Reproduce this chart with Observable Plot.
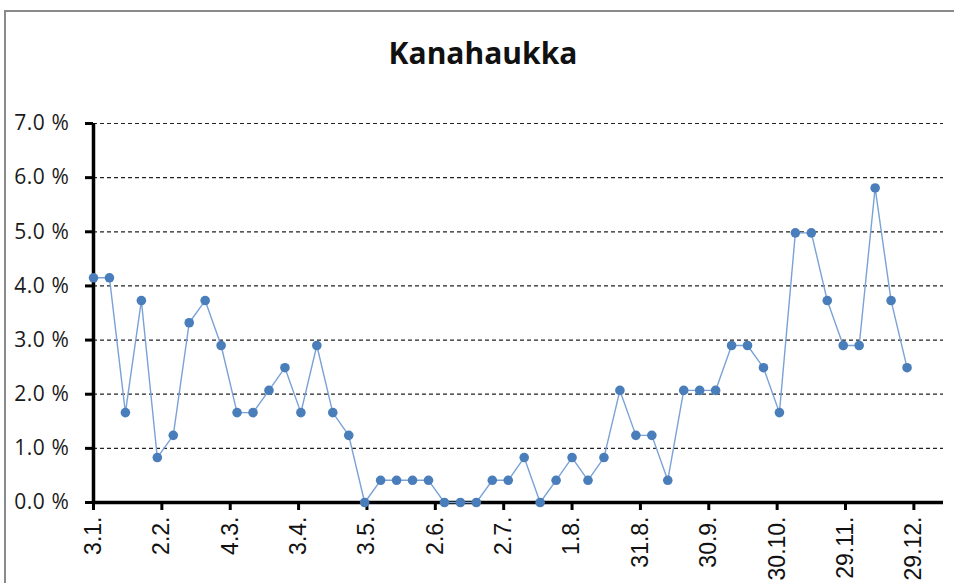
<!DOCTYPE html>
<html>
<head>
<meta charset="utf-8">
<script src="https://cdn.jsdelivr.net/npm/d3@7"></script>
<script src="https://cdn.jsdelivr.net/npm/@observablehq/plot@0.6"></script>
<style>
  body { margin: 0; background: #fff; }
  #wrap { position: relative; width: 954px; height: 583px; overflow: hidden; background: #fff; }
  #frame { position: absolute; left: 4px; top: 10px; width: 1000px; height: 700px;
           border-top: 2px solid #8a8a8a; border-left: 2px solid #8a8a8a; }
  #title { position: absolute; left: 6px; width: 954px; top: 38px; text-align: center;
           font: 700 30px "Open Sans", sans-serif; line-height: 1; color: #111; }
  #chart { position: absolute; left: 0; top: 0; }
  g[aria-label="y-axis tick label"] text { font-family: "Open Sans", sans-serif; font-size: 21px; letter-spacing: 0.6px; fill: #1a1a1a; }
  g[aria-label="x-axis tick label"] text { font-family: "Liberation Sans", Arial, sans-serif; font-size: 23px; fill: #111; }
</style>
</head>
<body>
<div id="wrap">
  <div id="frame"></div>
  <div id="title">Kanahaukka</div>
  <div id="chart"></div>
</div>
<script>
// Series: weekly share (%) starting 3.1.
const startDate = "2019-01-03";
const values = [4.15, 4.15, 1.66, 3.73, 0.83, 1.24, 3.32, 3.73, 2.90, 1.66,
                1.66, 2.07, 2.49, 1.66, 2.90, 1.66, 1.24, 0, 0.41, 0.41,
                0.41, 0.41, 0, 0, 0, 0.41, 0.41, 0.83, 0, 0.41,
                0.83, 0.41, 0.83, 2.07, 1.24, 1.24, 0.41, 2.07, 2.07, 2.07,
                2.90, 2.90, 2.49, 1.66, 4.98, 4.98, 3.73, 2.90, 2.90, 5.81,
                3.73, 2.49];
const xTickLabels = ["3.1.", "2.2.", "4.3.", "3.4.", "3.5.", "2.6.", "2.7.", "1.8.", "31.8.", "30.9.", "30.10.", "29.11.", "29.12."];
const yTicks = [0, 1, 2, 3, 4, 5, 6, 7];
const titleText = "Kanahaukka";

document.getElementById("title").textContent = titleText;

const start = d3.utcParse("%Y-%m-%d")(startDate);
const data = values.map((v, i) => ({date: d3.utcDay.offset(start, 7 * i), value: v}));
const tickDates = xTickLabels.map(s => {
  const [d, m] = s.split(".").map(Number);
  return new Date(Date.UTC(2019, m - 1, d));
});
const labelOf = new Map(tickDates.map((d, i) => [+d, xTickLabels[i]]));
const xEnd = d3.utcDay.offset(start, 373);

const chart = Plot.plot({
  width: 954,
  height: 583,
  marginLeft: 93,
  marginRight: 11,
  marginTop: 123,
  marginBottom: 81,
  style: {background: "transparent", overflow: "visible"},
  x: {type: "utc", domain: [start, xEnd]},
  y: {domain: [0, 7]},
  marks: [
    Plot.ruleY(yTicks.filter(d => d > 0), {stroke: "#222", strokeWidth: 1.2, strokeDasharray: "4,3"}),
    Plot.axisY({ticks: yTicks, tickSize: 8, tickPadding: 16, strokeWidth: 3, stroke: "#000",
                tickFormat: d => d.toFixed(1) + " %", label: null}),
    Plot.axisX({ticks: tickDates, tickSize: 8, tickPadding: 6, strokeWidth: 3, stroke: "#000",
                tickRotate: -90, tickFormat: d => labelOf.get(+d), label: null}),
    Plot.ruleX([start], {stroke: "#000", strokeWidth: 3.5}),
    Plot.ruleY([0], {stroke: "#000", strokeWidth: 3.5}),
    Plot.line(data, {x: "date", y: "value", stroke: "#7aa2d6", strokeWidth: 1.4}),
    Plot.dot(data, {x: "date", y: "value", r: 4.8, fill: "#4a7ebb", stroke: "none"})
  ]
});
document.getElementById("chart").appendChild(chart);
</script>
</body>
</html>
